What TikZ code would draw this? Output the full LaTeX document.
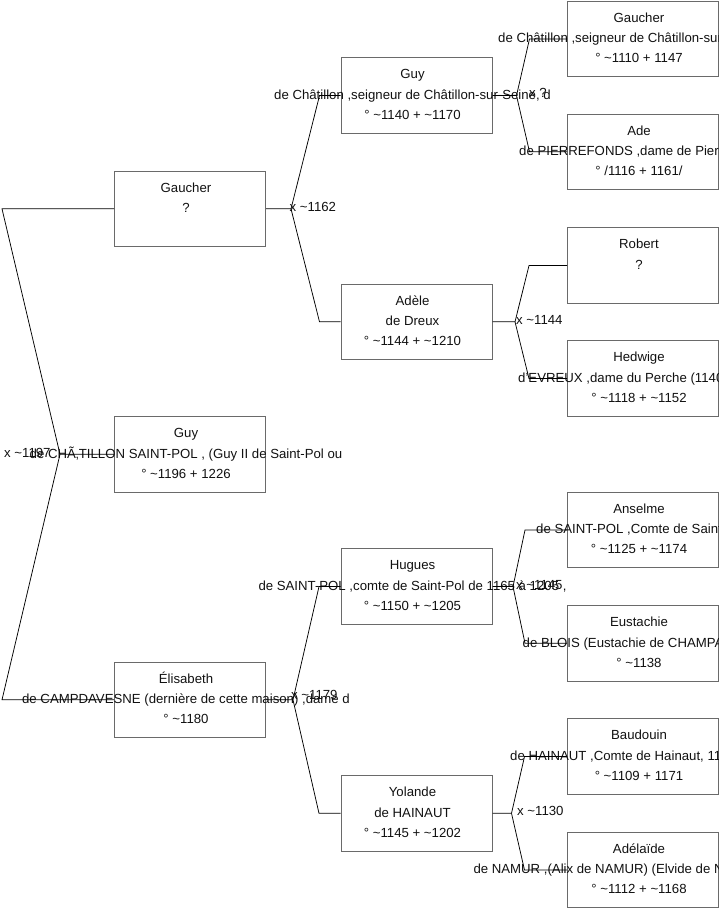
\documentclass[tikz,border=0pt]{standalone}
\usepackage{fontspec}
\setmainfont{Liberation Sans}
\definecolor{boxgray}{HTML}{6A6A6A}
\definecolor{txt}{HTML}{111111}
\tikzset{
  pbox/.style={draw=boxgray, line width=1.1pt, minimum width=151pt, minimum height=75.5pt, inner sep=0pt, anchor=north west},
  ptext/.style={font=\fontsize{13.2}{15}\selectfont, inner sep=0pt, anchor=base, text=txt},
  ptextw/.style={ptext, anchor=base west},
  conn/.style={draw=black, line width=0.75pt},
}
% name, left x, top y, line1, line2, line3
\newcommand\pbx[6]{%
  \node[pbox] (#1) at (#2,-#3) {};
  \node[ptext] (#1-a) at ({#2+72},{-#3-21.5}) {#4};
  \node[ptext] (#1-b) at ({#2+72},{-#3-42}) {#5};
  \node[ptext] (#1-c) at ({#2+72},{-#3-62}) {#6};
}
% name, left x, top y, line1, line2, line2 left x, line3
\newcommand\pbxw[7]{%
  \node[pbox] (#1) at (#2,-#3) {};
  \node[ptext] (#1-a) at ({#2+72},{-#3-21.5}) {#4};
  \node[ptextw] (#1-b) at ({#6},{-#3-42}) {#5};
  \node[ptext] (#1-c) at ({#2+72},{-#3-62}) {#7};
}
% parent, side anchor, fork x, bend x, child1, child2
\newcommand\forkto[6]{%
  \coordinate (#1-fk) at (#3,0);
  \coordinate (#1-bd) at (#4,0);
  \draw[conn] (#1.#2) -- (#1-fk |- #1.#2) -- (#1-bd |- #5.west) -- (#5.west);
  \draw[conn] (#1-fk |- #1.#2) -- (#1-bd |- #6.west) -- (#6.west);
}
\begin{document}
\begin{tikzpicture}[x=1pt,y=1pt]
\useasboundingbox (0,0) rectangle (719,-908);
\begin{scope}
\clip (0,0) rectangle (719,-908);
% generation 1
\pbx{gA}{114}{170.5}{Gaucher}{?}{}
\pbx{gR}{114}{416}{Guy}{de CHÃ‚TILLON SAINT-POL , (Guy II de Saint-Pol ou}{° \textasciitilde1196 + 1226}
\pbx{gE}{114}{661.5}{Élisabeth}{de CAMPDAVESNE (dernière de cette maison) ,dame d}{° \textasciitilde1180}
% generation 2
\pbx{hG}{340.5}{57.3}{Guy}{de Châtillon ,seigneur de Châtillon-sur-Seine, d}{° \textasciitilde1140 + \textasciitilde1170}
\pbx{hA}{340.5}{283.5}{Adèle}{de Dreux}{° \textasciitilde1144 + \textasciitilde1210}
\pbx{hH}{340.5}{548.3}{Hugues}{de SAINT-POL ,comte de Saint-Pol de 1165 à 1205 ,}{° \textasciitilde1150 + \textasciitilde1205}
\pbx{hY}{340.5}{775}{Yolande}{de HAINAUT}{° \textasciitilde1145 + \textasciitilde1202}
% generation 3
\pbxw{iG}{567}{0.6}{Gaucher}{de Châtillon ,seigneur de Châtillon-sur-Seine, d}{498}{° \textasciitilde1110 + 1147}
\pbxw{iA}{567}{113.5}{Ade}{de PIERREFONDS ,dame de Pierrefonds}{519}{° /1116 + 1161/}
\pbx{iR}{567}{227.3}{Robert}{?}{}
\pbxw{iH}{567}{340.3}{Hedwige}{d'EVREUX ,dame du Perche (1140}{518}{° \textasciitilde1118 + \textasciitilde1152}
\pbxw{iS}{567}{491.7}{Anselme}{de SAINT-POL ,Comte de Saint-Pol}{536}{° \textasciitilde1125 + \textasciitilde1174}
\pbxw{iE}{567}{605}{Eustachie}{de BLOIS (Eustachie de CHAMPAGNE)}{522.5}{° \textasciitilde1138}
\pbxw{iB}{567}{718.3}{Baudouin}{de HAINAUT ,Comte de Hainaut, 1120}{510}{° \textasciitilde1109 + 1171}
\pbxw{iD}{567}{831.7}{Adélaïde}{de NAMUR ,(Alix de NAMUR) (Elvide de NAMUR)}{473.3}{° \textasciitilde1112 + \textasciitilde1168}
% connectors
\forkto{gR}{west}{60}{2}{gA}{gE}
\forkto{gA}{east}{291}{319.5}{hG}{hA}
\forkto{gE}{east}{293}{319}{hH}{hY}
\forkto{hG}{east}{516.5}{529.5}{iG}{iA}
\forkto{hA}{east}{515}{529}{iR}{iH}
\forkto{hH}{east}{513}{525}{iS}{iE}
\forkto{hY}{east}{511.5}{524.5}{iB}{iD}
% union labels
\node[ptextw] (m0) at (4,-457) {x \textasciitilde1197};
\node[ptextw] (m1) at (289.5,-211.5) {x \textasciitilde1162};
\node[ptextw] (m2) at (529,-97.5) {x ?};
\node[ptextw] (m3) at (516,-324.5) {x \textasciitilde1144};
\node[ptextw] (m4) at (291,-699.5) {x \textasciitilde1179};
\node[ptextw] (m5) at (516,-589.5) {x \textasciitilde1145};
\node[ptextw] (m6) at (517,-815.5) {x \textasciitilde1130};
\end{scope}
\end{tikzpicture}
\end{document}
